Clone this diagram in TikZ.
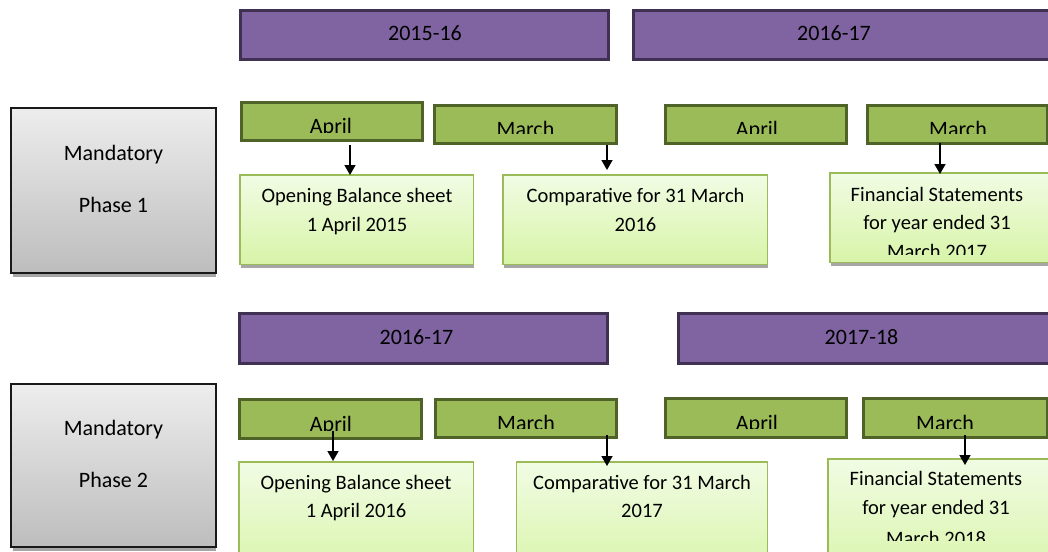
\documentclass[tikz,border=0pt]{standalone}
\usepackage{fontspec}
\setmainfont{Carlito}
\usetikzlibrary{arrows.meta,fit}
\definecolor{purp}{HTML}{8064A2}
\definecolor{pdark}{HTML}{3F3151}
\definecolor{gfill}{HTML}{9BBB59}
\definecolor{gdark}{HTML}{4F6228}
\definecolor{ltop}{HTML}{F1FCE4}
\definecolor{lbot}{HTML}{D8F4A8}
\definecolor{lborder}{HTML}{9BBB59}
\definecolor{gtop}{HTML}{EDEDED}
\definecolor{gbot}{HTML}{BDBDBD}
\definecolor{shade}{HTML}{A6A6A6}
\begin{document}
\begin{tikzpicture}[x=1pt,y=-1pt,
  yearbox/.style={draw=pdark, fill=purp, line width=3pt, inner sep=0pt, outer sep=0pt},
  monthbox/.style={draw=gdark, fill=gfill, line width=3pt, inner sep=0pt, outer sep=0pt},
  resultbox/.style={draw=lborder, top color=ltop, bottom color=lbot, line width=1.5pt, inner sep=0pt, outer sep=0pt},
  phasebox/.style={draw=black!90, top color=gtop, bottom color=gbot, line width=2pt, inner sep=0pt, outer sep=0pt},
  txt/.style={font=\fontsize{20.5}{25}\selectfont, anchor=base, inner sep=0pt},
  mtxt/.style={font=\fontsize{22}{26}\selectfont, anchor=base, inner sep=0pt},
  ytxt/.style={font=\fontsize{22}{26}\selectfont, anchor=base, inner sep=0pt},
  arr/.style={line width=1.5pt, -{Triangle[width=11pt,length=10pt]}},
  shadowband/.style={fill=shade}
]
\useasboundingbox (0,0) rectangle (1048,551);

% ---------- shadows ----------
\fill[shadowband] (13,272) rectangle (216,276.5);
\fill[shadowband] (13,547) rectangle (216,550.5);
\fill[shadowband] (241,264) rectangle (474,267.5);
\fill[shadowband] (504,264) rectangle (768,267.5);
\fill[shadowband] (831,262) rectangle (1060,266);

% ---------- Row 1 ----------
\node[yearbox, fit={(240.5,10.5) (608.5,59.5)}] (p1) {};
\node[yearbox, fit={(633.5,10.5) (1058,59.5)}] (p2) {};
\node[ytxt] (p1t) at (425,40.7) {2015-16};
\node[ytxt] (p2t) at (834,40.7) {2016-17};

\node[phasebox, fit={(11,108) (215.5,272.5)}] (g1) {};
\node[mtxt] (g1a) at (113.5,160) {Mandatory};
\node[mtxt] (g1b) at (113.5,212) {Phase 1};

\node[monthbox, fit={(241.5,102.5) (422.5,140.5)}] (ga1) {};
\node[monthbox, fit={(434.5,105.5) (616.5,143.5)}] (gm1) {};
\node[monthbox, fit={(665.5,105.5) (846.5,143.5)}] (ga2) {};
\node[monthbox, fit={(867.5,105.5) (1047.5,143.5)}] (gm2) {};
\begin{scope}\clip (240,100) rectangle (424,132.5);
  \node[mtxt] (ga1t) at (331,133.5) {April};\end{scope}
\begin{scope}\clip (433,100) rectangle (618,133.5);
  \node[mtxt] (gm1t) at (525.5,136) {March};\end{scope}
\begin{scope}\clip (664,100) rectangle (848,133.5);
  \node[mtxt] (ga2t) at (757,136) {April};\end{scope}
\begin{scope}\clip (866,100) rectangle (1049,133.5);
  \node[mtxt] (gm2t) at (958,136) {March};\end{scope}

\node[resultbox, fit={(239.75,174.75) (473.25,264.25)}] (ob1) {};
\node[resultbox, fit={(502.75,174.75) (767.25,264.25)}] (cp1) {};
\node[resultbox, fit={(829.75,172.75) (1058,262.25)}] (fs1) {};
\node[txt] (ob1a) at (357,202) {Opening Balance sheet};
\node[txt] (ob1b) at (357,231) {1 April 2015};
\node[txt] (cp1a) at (635.5,202) {Comparative for 31 March};
\node[txt] (cp1b) at (635.5,231) {2016};
\node[txt] (fs1a) at (937,201) {Financial Statements};
\node[txt] (fs1b) at (937,229.5) {for year ended 31};
\begin{scope}\clip (830,240) rectangle (1048,254);
  \node[txt] (fs1c) at (937,258) {March 2017};\end{scope}

\coordinate (s1) at (350,145); \coordinate (e1) at (350,175);
\coordinate (s2) at (607,145); \coordinate (e2) at (607,170);
\coordinate (s3) at (940,143); \coordinate (e3) at (940,174);
\draw[arr] (s1) -- (e1);
\draw[arr] (s2) -- (e2);
\draw[arr] (s3) -- (e3);

% ---------- Row 2 ----------
\node[yearbox, fit={(239.5,313.5) (607.5,363.5)}] (p3) {};
\node[yearbox, fit={(678.5,313.5) (1058,363.5)}] (p4) {};
\node[ytxt] (p3t) at (416.5,344.3) {2016-17};
\node[ytxt] (p4t) at (861.5,344) {2017-18};

\node[phasebox, fit={(11,384) (215.5,547)}] (g2) {};
\node[mtxt] (g2a) at (113.5,435) {Mandatory};
\node[mtxt] (g2b) at (113.5,487.3) {Phase 2};

\node[monthbox, fit={(239.5,399.5) (421.5,438.5)}] (ga3) {};
\node[monthbox, fit={(435.5,399.5) (616.5,437.5)}] (gm3) {};
\node[monthbox, fit={(665.5,398.5) (846.5,437.5)}] (ga4) {};
\node[monthbox, fit={(863.5,398.5) (1047.5,437.5)}] (gm4) {};
\begin{scope}\clip (238,395) rectangle (423,430);
  \node[mtxt] (ga3t) at (331,431) {April};\end{scope}
\begin{scope}\clip (434,395) rectangle (618,428);
  \node[mtxt] (gm3t) at (526,430) {March};\end{scope}
\begin{scope}\clip (664,395) rectangle (848,428);
  \node[mtxt] (ga4t) at (757,430) {April};\end{scope}
\begin{scope}\clip (862,395) rectangle (1049,428);
  \node[mtxt] (gm4t) at (945,430) {March};\end{scope}

\node[resultbox, fit={(238.75,461.75) (473.25,580)}] (ob2) {};
\node[resultbox, fit={(516.25,461.75) (767.25,580)}] (cp2) {};
\node[resultbox, fit={(827.75,458.75) (1058,580)}] (fs2) {};
\node[txt] (ob2a) at (356,489.3) {Opening Balance sheet};
\node[txt] (ob2b) at (356,517.3) {1 April 2016};
\node[txt] (cp2a) at (642,489) {Comparative for 31 March};
\node[txt] (cp2b) at (642,517) {2017};
\node[txt] (fs2a) at (936,485.7) {Financial Statements};
\node[txt] (fs2b) at (936,514) {for year ended 31};
\begin{scope}\clip (828,525) rectangle (1048,540);
  \node[txt] (fs2c) at (936,545.5) {March 2018};\end{scope}

\coordinate (s4) at (333,431); \coordinate (e4) at (333,461);
\coordinate (s5) at (607,435); \coordinate (e5) at (607,466);
\coordinate (s6) at (965,435); \coordinate (e6) at (965,465);
\draw[arr] (s4) -- (e4);
\draw[arr] (s5) -- (e5);
\draw[arr] (s6) -- (e6);
\end{tikzpicture}
\end{document}
